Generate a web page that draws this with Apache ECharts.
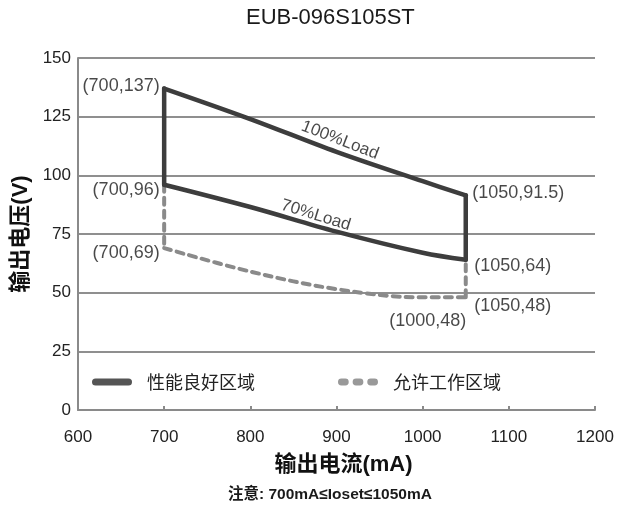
<!DOCTYPE html>
<html><head><meta charset="utf-8">
<script src="https://cdn.jsdelivr.net/npm/echarts@6/dist/echarts.min.js"></script>
<style>html,body{margin:0;padding:0;background:#fff}#c{width:617px;height:508px}</style>
</head><body><div id="c"></div>
<script>
// ---- data ----
const chartTitle = 'EUB-096S105ST';
const xName = '输出电流(mA)';
const yName = '输出电压(V)';
const noteText = '注意: 700mA≤Ioset≤1050mA';
const legendNames = ['性能良好区域', '允许工作区域'];
const xMin = 600, xMax = 1200, xStep = 100;
const yMin = 0, yMax = 150, yStep = 25;

// 100% load upper boundary
const load100X = [700, 800, 900, 1000, 1050];
const load100Y = [137, 124, 110, 97.5, 91.5];
// 70% load lower boundary
const load70X = [700, 800, 900, 1000, 1050];
const load70Y = [96, 86.5, 76, 67, 64];
// allowed working region lower boundary
const allowX = [700, 800, 900, 1000, 1050];
const allowY = [69, 59, 51.5, 48, 48];
// vertical edges
const goodLeftEdge = [[700, 96], [700, 137]];
const goodRightEdge = [[1050, 91.5], [1050, 64]];
const allowLeftEdge = [[700, 96], [700, 69]];
const allowRightEdge = [[1050, 48], [1050, 64]];
// corner annotations
const cornerX = [700, 700, 700, 1050, 1050, 1050, 1000];
const cornerY = [137, 96, 69, 91.5, 64, 48, 48];
// curve names
const curveNames = ['100%Load', '70%Load'];
const curveNameX = [904, 876];
const curveNameY = [115, 83];

// ---- chart ----
const zip = (a, b) => a.map((v, i) => [v, b[i]]);
const solidStyle = { color: '#3d3d3d', width: 4.5, cap: 'round', join: 'round' };
const dashStyle = { color: '#8a8a8a', width: 4, type: [7, 6], cap: 'round' };
const lineBase = { type: 'line', symbol: 'none', silent: true, animation: false };

const labelPlacement = [
  { position: 'left', offset: [0, -2] },
  { position: 'left', offset: [0, 5] },
  { position: 'left', offset: [0, 5] },
  { position: 'right', offset: [2, -2] },
  { position: 'right', offset: [4, 6] },
  { position: 'right', offset: [4, 9] },
  { position: 'bottom', offset: [5, 10] }
];
const cornerData = cornerX.map((x, i) => ({
  value: [x, cornerY[i]],
  label: Object.assign({ show: true, formatter: '(' + x + ',' + cornerY[i] + ')' }, labelPlacement[i])
}));
const curveRot = [-21, -17];
const curveData = curveNames.map((n, i) => ({
  value: [curveNameX[i], curveNameY[i]],
  label: { show: true, formatter: n, position: 'inside', rotate: curveRot[i] }
}));

const font = '"Liberation Sans", Arial, "Noto Sans CJK SC", sans-serif';
const pillSolid = 'path://M3.5,0 H36.5 A3.5,3.5 0 0 1 36.5,7 H3.5 A3.5,3.5 0 0 1 3.5,0 Z';
const pillDash = 'path://M3.5,0 H7.5 A3.5,3.5 0 0 1 7.5,7 H3.5 A3.5,3.5 0 0 1 3.5,0 Z M18.5,0 H22.5 A3.5,3.5 0 0 1 22.5,7 H18.5 A3.5,3.5 0 0 1 18.5,0 Z M33.5,0 H37.5 A3.5,3.5 0 0 1 37.5,7 H33.5 A3.5,3.5 0 0 1 33.5,0 Z';

const option = {
  backgroundColor: '#fff',
  animation: false,
  textStyle: { fontFamily: font },
  graphic: [
    { type: 'text', left: 246, top: 7, style: { text: chartTitle, font: 'normal 22px ' + font, fill: '#1a1a1a' } },
    { type: 'text', left: 228, top: 487, style: { text: noteText, font: 'bold 15.5px ' + font, fill: '#1a1a1a' } }
  ],
  grid: { left: 78, right: 22, top: 58, bottom: 98 },
  legend: {
    data: [
      { name: legendNames[0], icon: pillSolid, itemStyle: { color: '#555' } },
      { name: legendNames[1], icon: pillDash, itemStyle: { color: '#999' } }
    ],
    left: 87, top: 368,
    itemWidth: 40, itemHeight: 7, itemGap: 83,
    textStyle: { fontFamily: '"Noto Sans CJK SC", sans-serif', fontSize: 18, color: '#222', padding: [0, 0, 0, 10] },
    selectedMode: false
  },
  xAxis: {
    type: 'value', min: xMin, max: xMax, interval: xStep,
    name: xName, nameLocation: 'middle', nameGap: 44,
    nameTextStyle: { fontFamily: font, fontSize: 22, fontWeight: 'bold', color: '#111', padding: [0, 0, 0, 14] },
    axisLine: { show: true, lineStyle: { color: '#8a8a8a', width: 2 } },
    axisTick: { show: true, inside: true, length: 4, lineStyle: { color: '#8a8a8a', width: 2 } },
    axisLabel: { fontSize: 17, color: '#222', margin: 19, fontFamily: font, formatter: v => String(v) },
    splitLine: { show: false }
  },
  yAxis: {
    type: 'value', min: yMin, max: yMax, interval: yStep,
    name: yName, nameLocation: 'middle', nameGap: 46, nameRotate: 90,
    nameTextStyle: { fontFamily: font, fontSize: 22, fontWeight: 'bold', color: '#111' },
    axisLine: { show: true, lineStyle: { color: '#8a8a8a', width: 2 } },
    axisTick: { show: false },
    axisLabel: { fontSize: 17, color: '#222', margin: 7, fontFamily: font },
    splitLine: { show: true, lineStyle: { color: '#8f8f8f', width: 2 } }
  },
  series: [
    Object.assign({}, lineBase, { name: legendNames[1], data: allowLeftEdge, lineStyle: dashStyle }),
    Object.assign({}, lineBase, { name: legendNames[1], data: zip(allowX, allowY), smooth: 0.35, lineStyle: dashStyle }),
    Object.assign({}, lineBase, { name: legendNames[1], data: allowRightEdge, lineStyle: dashStyle }),
    Object.assign({}, lineBase, { name: legendNames[0], data: goodLeftEdge, lineStyle: solidStyle }),
    Object.assign({}, lineBase, { name: legendNames[0], data: zip(load100X, load100Y), smooth: 0.35, lineStyle: solidStyle }),
    Object.assign({}, lineBase, { name: legendNames[0], data: goodRightEdge, lineStyle: solidStyle }),
    Object.assign({}, lineBase, { name: legendNames[0], data: zip(load70X, load70Y), smooth: 0.35, lineStyle: solidStyle }),
    {
      type: 'scatter', name: 'corners', symbolSize: 1, itemStyle: { color: 'rgba(0,0,0,0)' }, silent: true,
      label: { fontSize: 18, color: '#1a1a1a', fontFamily: font, distance: 4 },
      data: cornerData
    },
    {
      type: 'scatter', name: 'curves', symbolSize: 1, itemStyle: { color: 'rgba(0,0,0,0)' }, silent: true,
      label: { fontSize: 17, color: '#1a1a1a', fontFamily: font },
      data: curveData
    }
  ]
};
const chart = echarts.init(document.getElementById('c'), null, { renderer: 'canvas' });
chart.setOption(option);
</script></body></html>
